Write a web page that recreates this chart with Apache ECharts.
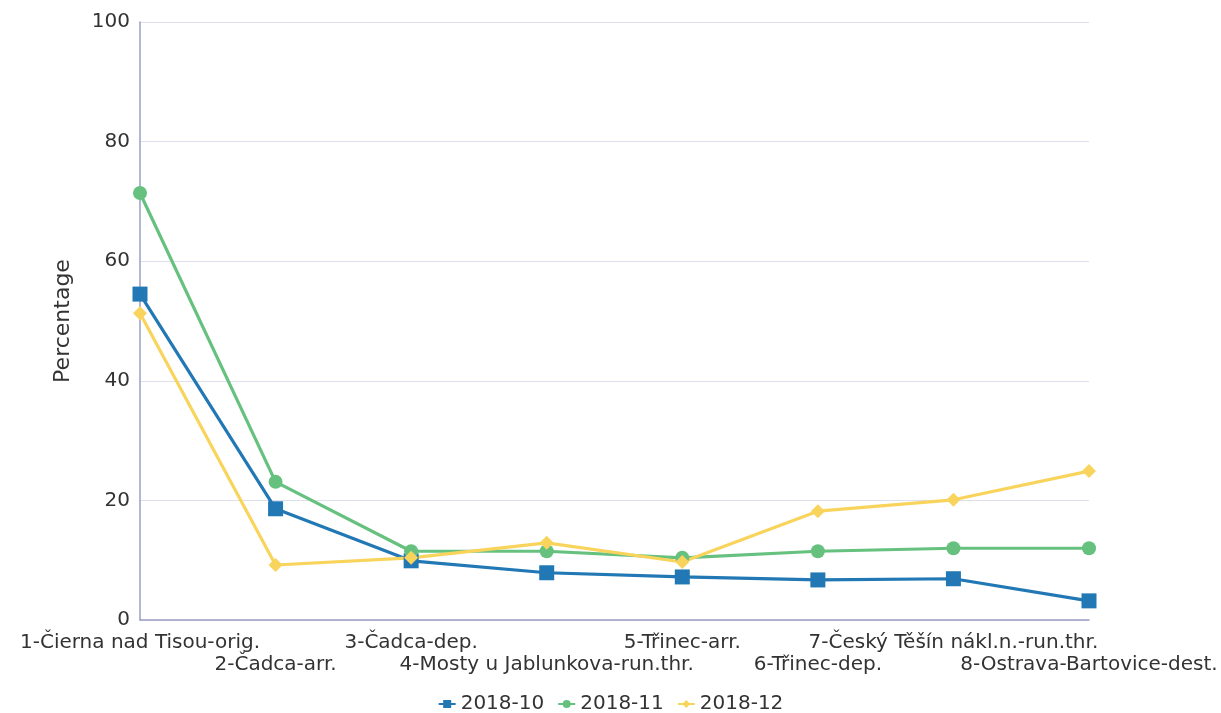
<!DOCTYPE html>
<html><head><meta charset="utf-8">
<script src="https://cdn.jsdelivr.net/npm/echarts@6/dist/echarts.min.js"></script>
<style>html,body{margin:0;padding:0;background:#fff}#c{width:1221px;height:713px}</style>
</head><body><div id="c"></div>
<script>
var categories = ['1-Čierna nad Tisou-orig.','2-Čadca-arr.','3-Čadca-dep.','4-Mosty u Jablunkova-run.thr.','5-Třinec-arr.','6-Třinec-dep.','7-Český Těšín nákl.n.-run.thr.','8-Ostrava-Bartovice-dest.'];
var s201810 = [54.5, 18.6, 9.9, 7.9, 7.2, 6.7, 6.9, 3.2];
var s201811 = [71.4, 23.1, 11.5, 11.5, 10.4, 11.5, 12.0, 12.0];
var s201812 = [51.3, 9.2, 10.4, 12.9, 9.7, 18.2, 20.1, 24.9];
var seriesNames = ['2018-10','2018-11','2018-12'];
var yTicks = [0, 20, 40, 60, 80, 100];

var chart = echarts.init(document.getElementById('c'));
var font = 'DejaVu Sans';
function mk(name, data, color, symbol, size) {
  return {name:name, type:'line', data:data, symbol:symbol, symbolSize:size,
    lineStyle:{width:3.2,color:color}, itemStyle:{color:color}, showAllSymbol:true};
}
chart.setOption({
  animation:false,
  textStyle:{fontFamily:font},
  grid:{left:140,right:132,top:22,bottom:93,containLabel:false},
  legend:{bottom:-6,left:'center',itemWidth:17,itemHeight:10,itemGap:13,
    textStyle:{fontFamily:font,fontSize:20,color:'#333'},data:seriesNames},
  xAxis:{type:'category',data:categories,boundaryGap:false,
    axisLine:{lineStyle:{color:'#9a9ec4',width:1.5}},axisTick:{show:false},
    axisLabel:{interval:0,hideOverlap:false,fontFamily:font,fontSize:20,color:'#333',margin:12,lineHeight:22,
      formatter:function(v,i){return i%2===1?'\n'+v:v;}}},
  yAxis:{type:'value',min:yTicks[0],max:yTicks[yTicks.length-1],interval:20,
    name:'Percentage',nameLocation:'middle',nameGap:66,
    nameTextStyle:{fontFamily:font,fontSize:22,color:'#333'},
    axisLine:{show:true,lineStyle:{color:'#9a9ec4',width:1.5}},axisTick:{show:false},
    splitLine:{lineStyle:{color:'#dedfec',width:1.2}},
    axisLabel:{fontFamily:font,fontSize:20,color:'#333',margin:10}},
  series:[
    mk(seriesNames[0], s201810, '#2178b4', 'rect', 15),
    mk(seriesNames[1], s201811, '#66c17f', 'circle', 14),
    mk(seriesNames[2], s201812, '#f9d45c', 'diamond', 14)
  ]
});
</script></body></html>
